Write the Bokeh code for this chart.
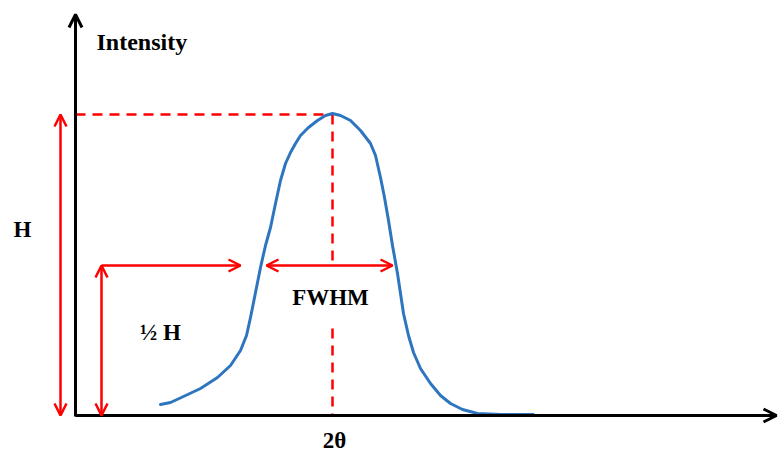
from bokeh.plotting import figure
from bokeh.models import Range1d, Arrow, OpenHead, Label
from bokeh.embed import file_html
from bokeh.resources import INLINE

# ---- data (schematic units: 2θ along x, intensity along y, origin at axes corner)
curve_x = [85, 95, 108, 125, 142, 155, 165, 171, 175, 180, 185, 190, 195, 200,
           205, 210, 215, 220, 225, 233, 242, 250, 257, 265, 275, 285, 295,
           300, 305, 309, 313, 317, 322, 325, 328, 333, 338, 345, 355, 365,
           375, 387, 402, 425, 458]
curve_y = [11, 13, 19, 27, 38, 50, 65, 80, 98, 123, 148, 170, 188, 212,
           235, 252, 263, 272, 280, 288, 295, 300, 302, 300, 295, 285, 272,
           260, 238, 218, 195, 170, 142, 122, 102, 80, 63, 47, 32, 20,
           12, 6, 2, 1, 1]
peak_x = 257
peak_h = 301
half_h = 150
fwhm_left = 191
fwhm_right = 317
x_axis_end = 701
y_axis_end = 401
h_arrow_x = -15
half_arrow_x = 26
half_line_end = 165
gap_bottom = 87

labels = {
    "Intensity": (21, 374),
    "H": (-53, 186),
    "½ H": (85, 83),
    "FWHM": (255, 118),
    "2θ": (259, -25),
}

RED = "#FF0000"
BLUE = "#2E75C0"
FONT = "Liberation Serif"

p = figure(width=778, height=452, output_backend="svg", toolbar_location=None,
           x_range=Range1d(-75, 703), y_range=Range1d(-37, 415),
           min_border=0, min_border_left=0, min_border_right=0,
           min_border_top=0, min_border_bottom=0)
p.axis.visible = False
p.grid.visible = False
p.outline_line_color = None
p.background_fill_color = "white"
p.border_fill_color = "white"

# dashed guide lines
p.line([0, peak_x], [peak_h, peak_h], line_color=RED, line_width=2.5, line_dash="10 7")
p.line([peak_x, peak_x], [peak_h, half_h], line_color=RED, line_width=2.5, line_dash="10 7")
p.line([peak_x, peak_x], [gap_bottom, 0], line_color=RED, line_width=2.5, line_dash="10 7")

# axes with arrowheads
p.add_layout(Arrow(x_start=0, y_start=0, x_end=x_axis_end, y_end=0,
                   line_color="black", line_width=3,
                   end=OpenHead(size=13, line_width=3, line_color="black")))
p.add_layout(Arrow(x_start=0, y_start=-1, x_end=0, y_end=y_axis_end,
                   line_color="black", line_width=3,
                   end=OpenHead(size=13, line_width=3, line_color="black")))

# curve
p.line(curve_x, curve_y, line_color=BLUE, line_width=3, line_join="round", line_cap="round")

# red measurement arrows
def head():
    return OpenHead(size=12, line_width=2.5, line_color=RED)

p.add_layout(Arrow(x_start=h_arrow_x, y_start=0, x_end=h_arrow_x, y_end=peak_h,
                   line_color=RED, line_width=2.5, start=head(), end=head()))
p.add_layout(Arrow(x_start=half_arrow_x, y_start=0, x_end=half_arrow_x, y_end=half_h,
                   line_color=RED, line_width=2.5, start=head(), end=head()))
p.add_layout(Arrow(x_start=half_arrow_x, y_start=half_h, x_end=half_line_end, y_end=half_h,
                   line_color=RED, line_width=2.5, end=head()))
p.add_layout(Arrow(x_start=fwhm_left, y_start=half_h, x_end=fwhm_right, y_end=half_h,
                   line_color=RED, line_width=2.5, start=head(), end=head()))

# texts
for txt, (lx, ly) in labels.items():
    align = "left" if txt == "Intensity" else "center"
    size = "24px" if txt == "Intensity" else "23px"
    p.add_layout(Label(x=lx, y=ly, text=txt, text_font=FONT, text_font_style="bold",
                       text_font_size=size, text_align=align, text_baseline="middle",
                       text_color="black"))

open("out.html", "w").write(file_html(p, INLINE))
